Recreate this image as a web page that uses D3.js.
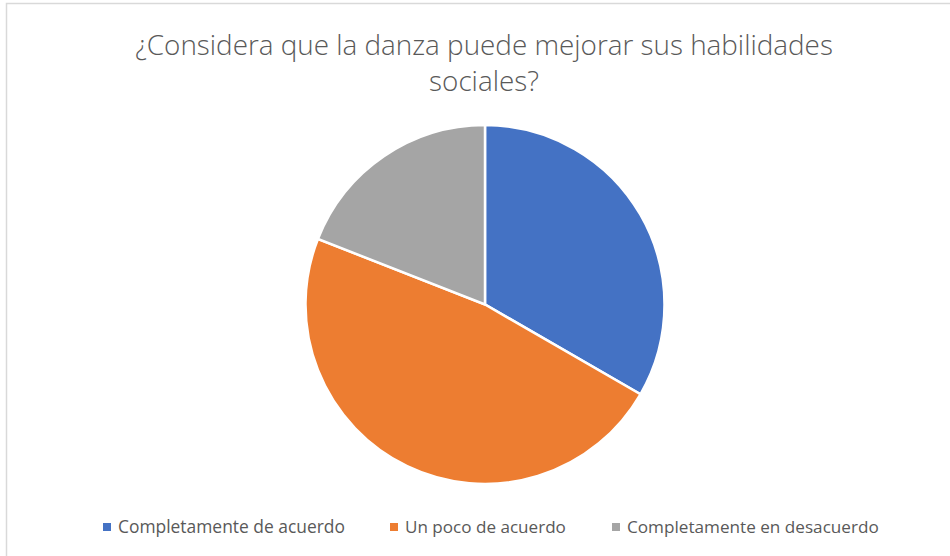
<!DOCTYPE html>
<html>
<head>
<meta charset="utf-8">
<script src="https://cdn.jsdelivr.net/npm/d3@7"></script>
<style>
  body { margin: 0; background: #fff; }
  text { font-family: "Open Sans", "Noto Sans", sans-serif; fill: #595959; }
</style>
</head>
<body>
<div id="chart"></div>
<script>
var categories = ["Completamente de acuerdo", "Un poco de acuerdo", "Completamente en desacuerdo"]
var values = [7, 10, 4]
var colors = ["#4472C4", "#ED7D31", "#A5A5A5"]
var titleLines = ["¿Considera que la danza puede mejorar sus habilidades", "sociales?"]

var w = 950
var h = 556
var cx = 485, cy = 304.5, radius = 179.5

var svg = d3.select("#chart")
  .append("svg")
    .attr("width", w)
    .attr("height", h)

// chart area border
svg.append("rect")
    .attr("x", 6.5)
    .attr("y", 3.5)
    .attr("width", w + 10)
    .attr("height", h + 10)
    .attr("fill", "white")
    .attr("stroke", "#d9d9d9")
    .attr("stroke-width", 1.5)

// title
var title = svg.append("text")
    .attr("text-anchor", "middle")
    .style("font-size", "25px")
    .style("font-weight", 300)
title.selectAll("tspan")
  .data(titleLines)
  .enter().append("tspan")
    .attr("x", w / 2 + 9)
    .attr("y", (d, i) => 55 + i * 36)
    .text(d => d)

// fit first line to the reference width
var firstLen = title.select("tspan").node().getComputedTextLength()
title.style("font-size", (25 * 698 / firstLen) + "px")

var pie = d3.pie().sort(null).value(d => d)
var arc = d3.arc().innerRadius(0).outerRadius(radius)

svg.append("g")
    .attr("transform", `translate(${cx}, ${cy})`)
  .selectAll("path")
    .data(pie(values))
  .enter().append("path")
    .attr("d", arc)
    .attr("fill", (d, i) => colors[i])
    .attr("stroke", "white")
    .attr("stroke-width", 2.5)

// legend
var legendX = [103, 390, 612]
var legend = svg.append("g").attr("class", "legend")
var items = legend.selectAll("g")
  .data(categories)
  .enter().append("g")
    .attr("transform", (d, i) => `translate(${legendX[i]}, 527)`)
items.append("rect")
    .attr("x", 0)
    .attr("y", -4)
    .attr("width", 8)
    .attr("height", 8)
    .attr("fill", (d, i) => colors[i])
items.append("text")
    .attr("x", 15)
    .attr("dy", "0.35em")
    .style("font-size", "16px")
    .text(d => d)

// fit legend text widths
var legendW = [227, 161, 252]
items.select("text").each(function(d, i) {
  var len = this.getComputedTextLength()
  d3.select(this).style("font-size", (16 * legendW[i] / len) + "px")
})
</script>
</body>
</html>
